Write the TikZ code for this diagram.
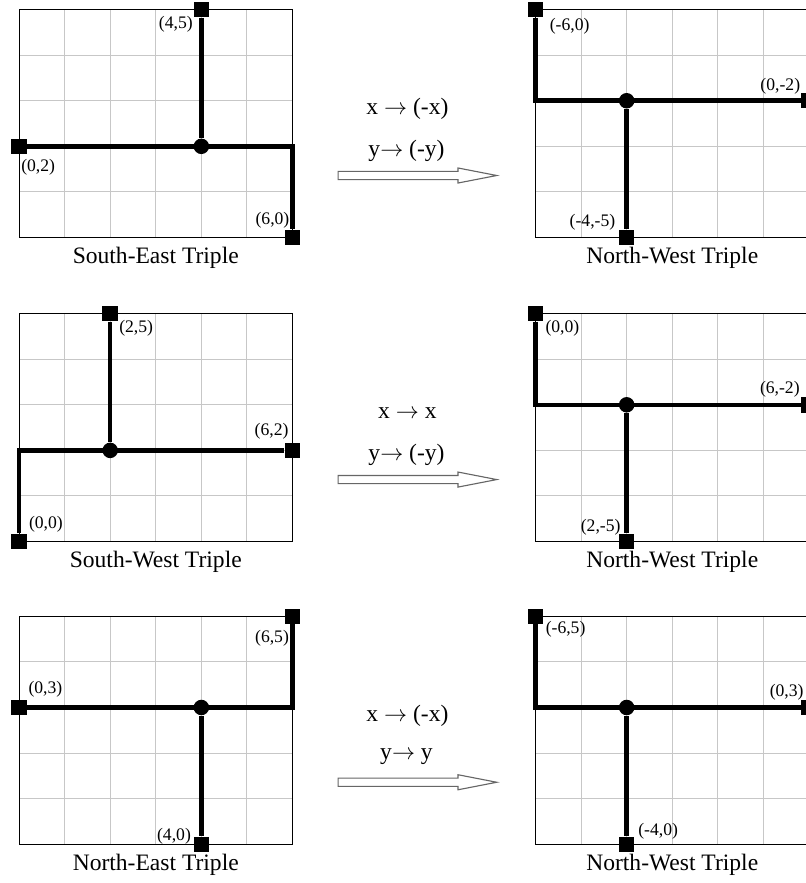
\documentclass[tikz,border=0pt]{standalone}
\usepackage{fontspec}
\setmainfont{Liberation Serif}
\begin{document}
\begin{tikzpicture}[
    gridline/.style={draw=black!22, line width=0.6pt},
    frame/.style={draw=black, line width=0.6pt},
    bar/.style={draw=black, line width=2.8pt},
    pt/.style={rectangle, fill=black, minimum size=0.34cm, inner sep=0pt},
    joint/.style={circle, fill=black, minimum size=0.34cm, inner sep=0pt},
    lbl/.style={font=\fontsize{11}{13}\selectfont, inner sep=0pt},
    caption/.style={font=\fontsize{14.7}{17}\selectfont, inner sep=0pt},
    fatarrow/.style={draw=black!60, fill=white, line width=0.7pt}
]
    \useasboundingbox (-0.417,-14.16) rectangle (17.26,5.21);
    \clip (-0.417,-14.16) rectangle (17.26,5.21);

    % South-East triple
    \begin{scope}
        \draw[gridline] (0,0) grid (6,5);
        \draw[frame] (0,0) rectangle (6,5);
        \node[pt] (seA) at (0,2) {};
        \node[pt] (seB) at (4,5) {};
        \node[pt] (seC) at (6,0) {};
        \node[joint] (seO) at (4,2) {};
        \coordinate (seK) at (6,2);
        \draw[bar] (seA) -- (seK) -- (seC);
        \draw[bar] (seO) -- (seB);
        \node[lbl] at (3.44,4.67) {(4,5)};
        \node[lbl] at (0.42,1.53) {(0,2)};
        \node[lbl] at (5.56,0.38) {(6,0)};
        \node[caption] at (3,-0.45) {South-East Triple};

        % mapping
        \node[caption] (mapx1) at (8.52,2.82) {x $\rightarrow$ (-x)};
        \node[caption] (mapy1) at (8.50,1.91) {y$\rightarrow$ (-y)};
        \draw[fatarrow] (7.0,1.27) -- (9.63,1.27) -- (9.63,1.195) -- (10.48,1.36)
            -- (9.63,1.525) -- (9.63,1.45) -- (7.0,1.45) -- cycle;
    \end{scope}

    % North-West triple (top)
    \begin{scope}[xshift=11.33cm]
        \draw[gridline] (0,0) grid (6,5);
        \draw[frame] (0,0) rectangle (6,5);
        \node[pt] (nwaA) at (0,5) {};
        \node[pt] (nwaB) at (6,3) {};
        \node[pt] (nwaC) at (2,0) {};
        \node[joint] (nwaO) at (2,3) {};
        \coordinate (nwaK) at (0,3);
        \draw[bar] (nwaA) -- (nwaK) -- (nwaB);
        \draw[bar] (nwaO) -- (nwaC);
        \node[lbl] at (0.75,4.63) {(-6,0)};
        \node[lbl] at (5.37,3.31) {(0,-2)};
        \node[lbl] at (1.25,0.34) {(-4,-5)};
        \node[caption] at (3,-0.45) {North-West Triple};
    \end{scope}

    % South-West triple
    \begin{scope}[yshift=-6.67cm]
        \draw[gridline] (0,0) grid (6,5);
        \draw[frame] (0,0) rectangle (6,5);
        \node[pt] (swA) at (0,0) {};
        \node[pt] (swB) at (2,5) {};
        \node[pt] (swC) at (6,2) {};
        \node[joint] (swO) at (2,2) {};
        \coordinate (swK) at (0,2);
        \draw[bar] (swA) -- (swK) -- (swC);
        \draw[bar] (swO) -- (swB);
        \node[lbl] at (2.57,4.68) {(2,5)};
        \node[lbl] at (5.54,2.42) {(6,2)};
        \node[lbl] at (0.59,0.39) {(0,0)};
        \node[caption] at (3,-0.45) {South-West Triple};

        % mapping
        \node[caption] (mapx2) at (8.52,2.82) {x $\rightarrow$ x};
        \node[caption] (mapy2) at (8.50,1.91) {y$\rightarrow$ (-y)};
        \draw[fatarrow] (7.0,1.27) -- (9.63,1.27) -- (9.63,1.195) -- (10.48,1.36)
            -- (9.63,1.525) -- (9.63,1.45) -- (7.0,1.45) -- cycle;
    \end{scope}

    % North-West triple (middle)
    \begin{scope}[xshift=11.33cm, yshift=-6.67cm]
        \draw[gridline] (0,0) grid (6,5);
        \draw[frame] (0,0) rectangle (6,5);
        \node[pt] (nwbA) at (0,5) {};
        \node[pt] (nwbB) at (6,3) {};
        \node[pt] (nwbC) at (2,0) {};
        \node[joint] (nwbO) at (2,3) {};
        \coordinate (nwbK) at (0,3);
        \draw[bar] (nwbA) -- (nwbK) -- (nwbB);
        \draw[bar] (nwbO) -- (nwbC);
        \node[lbl] at (0.59,4.68) {(0,0)};
        \node[lbl] at (5.36,3.35) {(6,-2)};
        \node[lbl] at (1.43,0.31) {(2,-5)};
        \node[caption] at (3,-0.45) {North-West Triple};
    \end{scope}

    % North-East triple
    \begin{scope}[yshift=-13.31cm]
        \draw[gridline] (0,0) grid (6,5);
        \draw[frame] (0,0) rectangle (6,5);
        \node[pt] (neA) at (0,3) {};
        \node[pt] (neB) at (6,5) {};
        \node[pt] (neC) at (4,0) {};
        \node[joint] (neO) at (4,3) {};
        \coordinate (neK) at (6,3);
        \draw[bar] (neA) -- (neK) -- (neB);
        \draw[bar] (neO) -- (neC);
        \node[lbl] at (5.55,4.51) {(6,5)};
        \node[lbl] at (0.58,3.40) {(0,3)};
        \node[lbl] at (3.40,0.17) {(4,0)};
        \node[caption] at (3,-0.45) {North-East Triple};

        % mapping
        \node[caption] (mapx3) at (8.52,2.82) {x $\rightarrow$ (-x)};
        \node[caption] (mapy3) at (8.50,1.93) {y$\rightarrow$ y};
        \draw[fatarrow] (7.0,1.27) -- (9.63,1.27) -- (9.63,1.195) -- (10.48,1.36)
            -- (9.63,1.525) -- (9.63,1.45) -- (7.0,1.45) -- cycle;
    \end{scope}

    % North-West triple (bottom)
    \begin{scope}[xshift=11.33cm, yshift=-13.31cm]
        \draw[gridline] (0,0) grid (6,5);
        \draw[frame] (0,0) rectangle (6,5);
        \node[pt] (nwcA) at (0,5) {};
        \node[pt] (nwcB) at (6,3) {};
        \node[pt] (nwcC) at (2,0) {};
        \node[joint] (nwcO) at (2,3) {};
        \coordinate (nwcK) at (0,3);
        \draw[bar] (nwcA) -- (nwcK) -- (nwcB);
        \draw[bar] (nwcO) -- (nwcC);
        \node[lbl] at (0.66,4.71) {(-6,5)};
        \node[lbl] at (5.51,3.34) {(0,3)};
        \node[lbl] at (2.69,0.29) {(-4,0)};
        \node[caption] at (3,-0.45) {North-West Triple};
    \end{scope}
\end{tikzpicture}
\end{document}
